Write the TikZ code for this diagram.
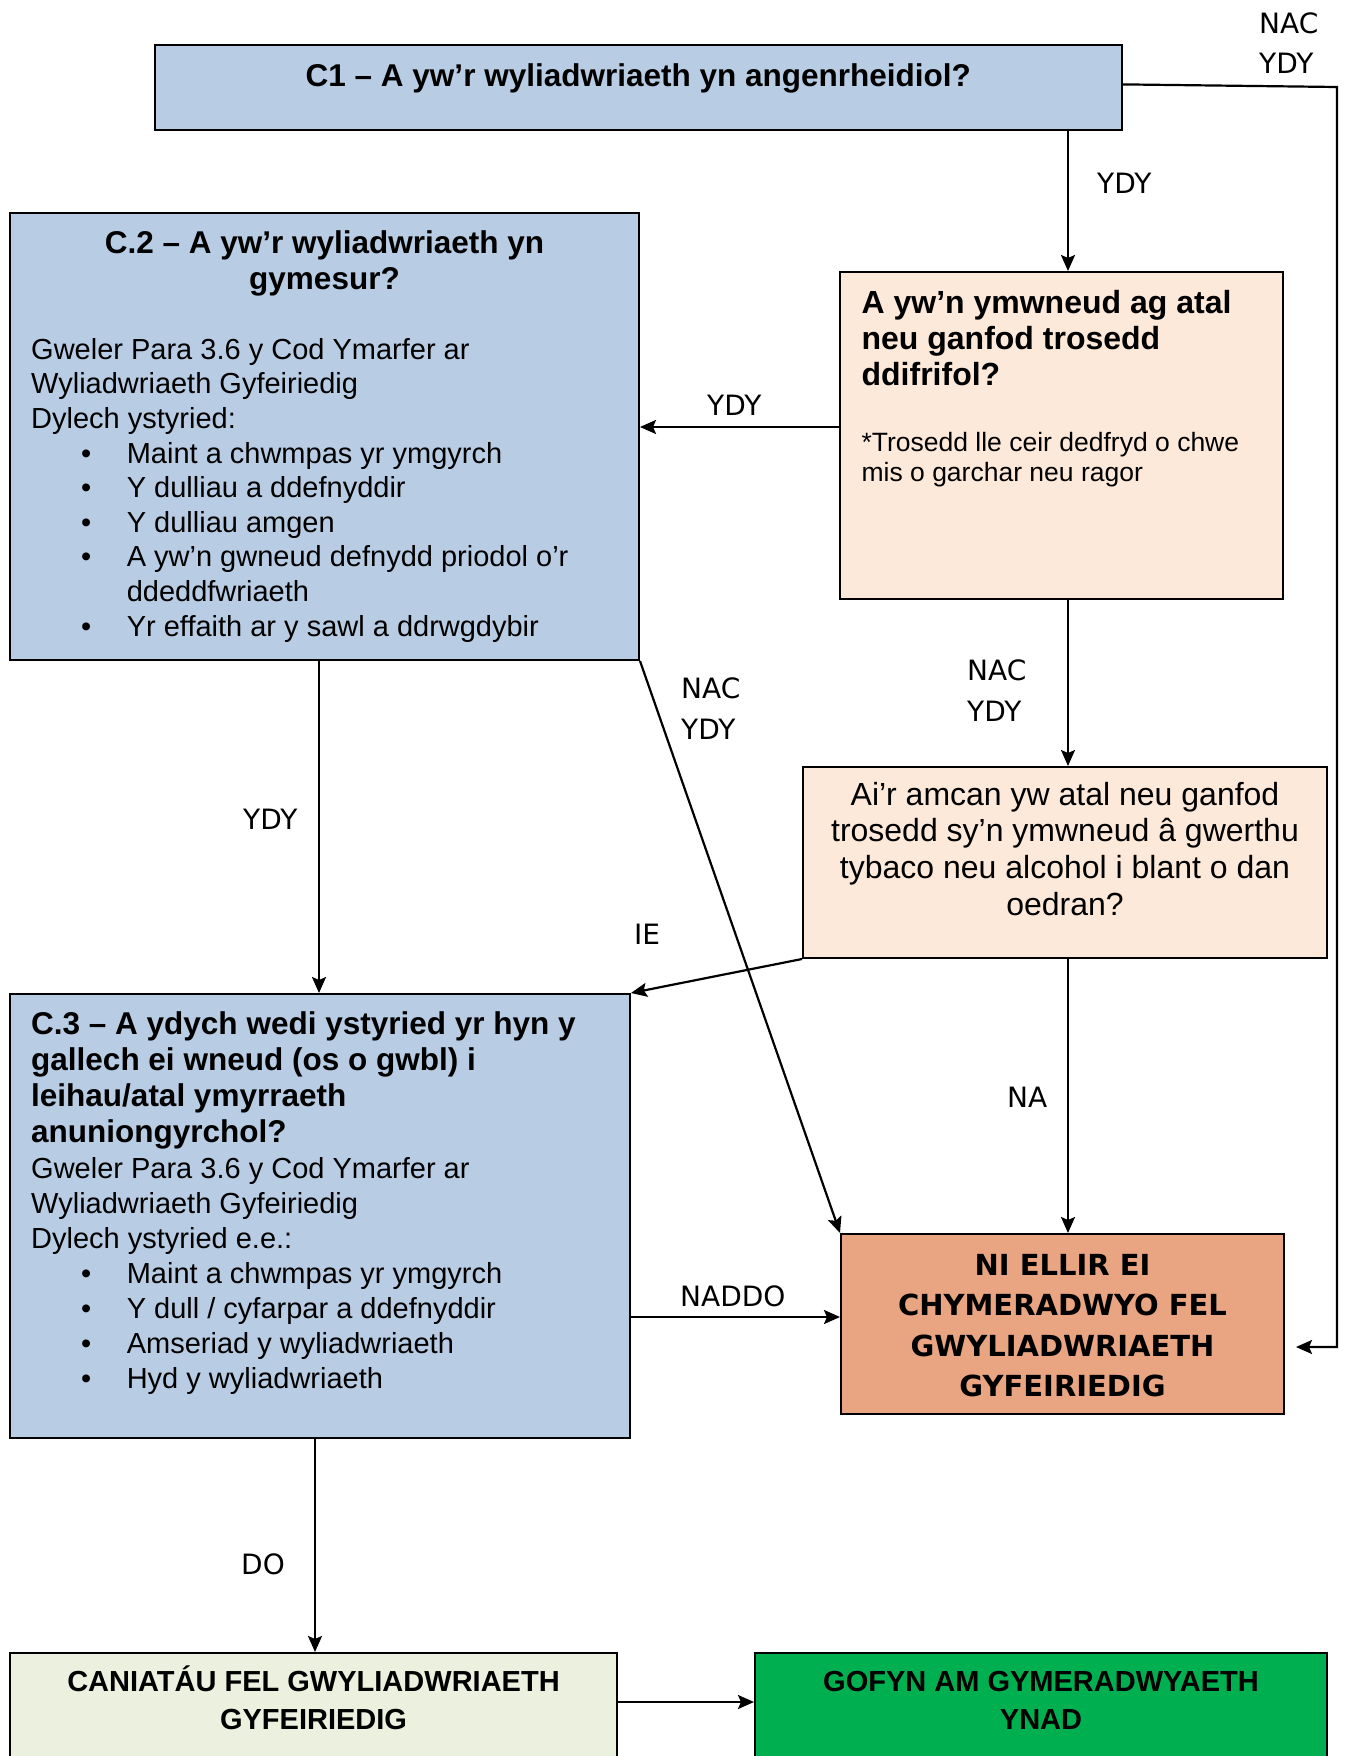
\documentclass[tikz,border=0pt]{standalone}
\usepackage{fontspec}
\setmainfont{Liberation Sans}
\newfontfamily\dvsans{DejaVu Sans}
\usetikzlibrary{arrows.meta}

\definecolor{qblue}{HTML}{B8CCE4}
\definecolor{qpeach}{HTML}{FDE9D9}
\definecolor{qstop}{HTML}{E9A482}
\definecolor{qok}{HTML}{EBF1DE}
\definecolor{qgreen}{HTML}{00B050}

\newcommand{\blt}{\hspace*{50pt}\makebox[45.6pt][l]{\textbullet}}
\newcommand{\bltcont}{\hspace*{95.6pt}}

\begin{document}
\begin{tikzpicture}[x=1pt,y=-1pt,
  box/.style={draw=black, line width=2pt, rectangle, inner sep=0pt},
  arr/.style={-{Stealth[length=16pt,width=14pt,inset=3pt]}, line width=2.2pt},
  txt/.style={inner sep=0pt, align=left},
  ttl/.style={txt, font=\bfseries\fontsize{31.5}{36.2}\selectfont},
  body/.style={txt, font=\fontsize{29}{34.6}\selectfont},
  lbl/.style={inner sep=0pt, anchor=base west, align=left,
              font=\dvsans\fontsize{28}{40.5}\selectfont},
]
\useasboundingbox (0,0) rectangle (1345,1756);
\clip (0,0) rectangle (1345,1756);

% boxes
\node[box, fill=qblue,  minimum width=967.4pt, minimum height=85.2pt] (C1) at (638.3,87.4) {};
\node[box, fill=qpeach, minimum width=443pt,   minimum height=327pt]  (A)  at (1061.5,435.5) {};
\node[box, fill=qblue,  minimum width=629pt,   minimum height=447pt]  (C2) at (324.5,436.5) {};
\node[box, fill=qpeach, minimum width=524pt,   minimum height=191pt]  (B)  at (1065,862.5) {};
\node[box, fill=qblue,  minimum width=620pt,   minimum height=444pt]  (C3) at (320,1216) {};
\node[box, fill=qstop,  minimum width=443pt,   minimum height=180pt]  (NI) at (1062.5,1324) {};
\node[box, fill=qok,    minimum width=607pt,   minimum height=137pt]  (D)  at (313.5,1721.5) {};
\node[box, fill=qgreen, minimum width=572pt,   minimum height=137pt]  (E)  at (1041,1721.5) {};

% box texts (multi-line nodes are placed by the baseline of their last line)
\node[ttl, anchor=base] (tC1) at (638.3,86) {C1 – A yw’r wyliadwriaeth yn angenrheidiol?};

\node[ttl, anchor=base, align=center] (tC2) at (324.5,289.5)
  {C.2 – A yw’r wyliadwriaeth yn\\gymesur?};
\node[body, anchor=base west] (bC2) at (31,636.1)
  {Gweler Para 3.6 y Cod Ymarfer ar\\
   Wyliadwriaeth Gyfeiriedig\\
   Dylech ystyried:\\
   \blt Maint a chwmpas yr ymgyrch\\
   \blt Y dulliau a ddefnyddir\\
   \blt Y dulliau amgen\\
   \blt A yw’n gwneud defnydd priodol o’r\\
   \bltcont ddeddfwriaeth\\
   \blt Yr effaith ar y sawl a ddrwgdybir};

\node[txt, anchor=base west, font=\bfseries\fontsize{32}{36}\selectfont] (tA) at (861.4,385.3)
  {A yw’n ymwneud ag atal\\neu ganfod trosedd\\ddifrifol?};
\node[txt, anchor=base west, font=\fontsize{26.5}{30}\selectfont] (nA) at (861.4,481.7)
  {*Trosedd lle ceir dedfryd o chwe\\mis o garchar neu ragor};

\node[txt, anchor=base, align=center, font=\fontsize{32}{36.7}\selectfont] (tB) at (1065,915.1)
  {Ai’r amcan yw atal neu ganfod\\trosedd sy’n ymwneud â gwerthu\\tybaco neu alcohol i blant o dan\\oedran?};

\node[ttl, anchor=base west] (tC3) at (31,1142.9)
  {C.3 – A ydych wedi ystyried yr hyn y\\gallech ei wneud (os o gwbl) i\\leihau/atal ymyrraeth\\anuniongyrchol?};
\node[body, anchor=base west, font=\fontsize{29}{35}\selectfont] (bC3) at (31,1388.3)
  {Gweler Para 3.6 y Cod Ymarfer ar\\
   Wyliadwriaeth Gyfeiriedig\\
   Dylech ystyried e.e.:\\
   \blt Maint a chwmpas yr ymgyrch\\
   \blt Y dull / cyfarpar a ddefnyddir\\
   \blt Amseriad y wyliadwriaeth\\
   \blt Hyd y wyliadwriaeth};

\node[txt, anchor=base, align=center, font=\dvsans\bfseries\fontsize{29}{40.6}\selectfont] (tNI) at (1062.5,1396.8)
  {NI ELLIR EI\\CHYMERADWYO FEL\\GWYLIADWRIAETH\\GYFEIRIEDIG};

\node[txt, anchor=base, align=center, font=\bfseries\fontsize{29}{38}\selectfont] (tD) at (313.5,1729.7)
  {CANIATÁU FEL GWYLIADWRIAETH\\GYFEIRIEDIG};
\node[txt, anchor=base, align=center, font=\bfseries\fontsize{29}{38}\selectfont] (tE) at (1041,1729.7)
  {GOFYN AM GYMERADWYAETH\\YNAD};

% connectors
\coordinate (xa) at (1068,0);
\coordinate (xb) at (319,0);
\coordinate (xd) at (315,0);
\coordinate (ya) at (0,427);
\coordinate (yc) at (0,1317);
\coordinate (yd) at (0,1702);
\coordinate (loopend) at (1296,1347);

\draw[arr] (C1.south -| xa) -- (A.north -| xa);
\draw[arr] (A.west |- ya) -- (C2.east |- ya);
\draw[arr] (C2.south -| xb) -- (C3.north -| xb);
\draw[arr] (C2.south east) -- (NI.north west);
\draw[arr] (A.south -| xa) -- (B.north -| xa);
\draw[arr] (B.south west) -- (C3.north east);
\draw[arr] (B.south -| xa) -- (NI.north -| xa);
\draw[arr] (C3.east |- yc) -- (NI.west |- yc);
\draw[arr] (C3.south -| xd) -- (D.north -| xd);
\draw[arr] (D.east |- yd) -- (E.west |- yd);
\draw[arr] ([yshift=3pt]C1.east) -- (1337,87) -- (1337,1347) -- (loopend);

% connector labels
\node[lbl] (l1) at (1259,73.5) {NAC\\YDY};
\node[lbl] (l2) at (1097,193) {YDY};
\node[lbl] (l3) at (707,415) {YDY};
\node[lbl] (l4) at (681,739) {NAC\\YDY};
\node[lbl] (l5) at (967,721) {NAC\\YDY};
\node[lbl] (l6) at (243,829) {YDY};
\node[lbl] (l7) at (634,944.5) {IE};
\node[lbl] (l8) at (1007,1107) {NA};
\node[lbl] (l9) at (680,1306) {NADDO};
\node[lbl] (l10) at (241,1574) {DO};
\end{tikzpicture}
\end{document}
